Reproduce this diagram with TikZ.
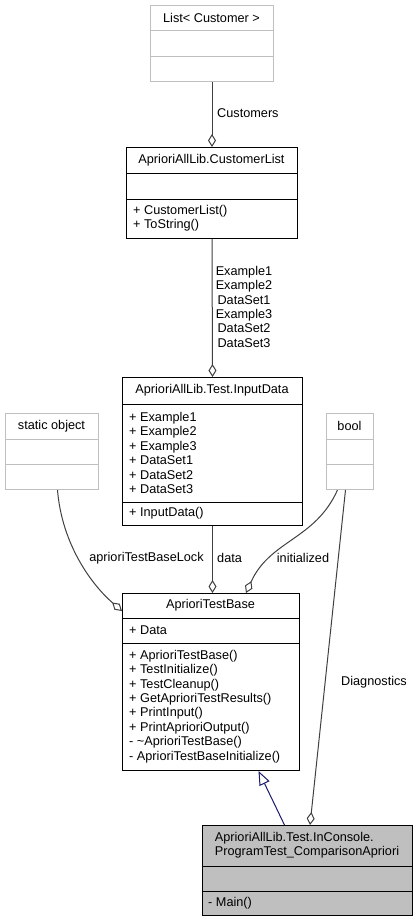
\documentclass[tikz,border=0pt]{standalone}
\usepackage{fontspec}
\setmainfont{Liberation Sans}
\usetikzlibrary{arrows.meta,calc}
\definecolor{edgegray}{HTML}{404040}
\definecolor{boxgray}{HTML}{BFBFBF}
\definecolor{inhblue}{HTML}{191970}
\tikzset{
  txt/.style={font=\fontsize{12.7}{14.4}\selectfont, inner sep=0pt},
  cls/.style={draw=black, line width=1pt, anchor=north west, inner sep=0pt, fill=white},
  extcls/.style={cls, draw=boxgray},
  sepline/.style={draw=black, line width=1pt},
  extsep/.style={draw=boxgray, line width=1pt},
  agg/.style={draw=edgegray, line width=1pt, -{Diamond[open, length=13pt, width=8pt, fill=white]}},
  inh/.style={draw=inhblue, line width=1pt, -{Triangle[open, length=14pt, width=11pt, fill=white]}},
  lbl/.style={txt, text=black},
}
\begin{document}
\begin{tikzpicture}[x=1pt,y=-1pt]
\useasboundingbox (0,0) rectangle (416,923);

% List< Customer >
\node[extcls, minimum width=123pt, minimum height=76pt] (lst) at (150,5) {};
\draw[extsep] (150,31) -- (273,31) (150,57) -- (273,57);
\node[txt] (lstT) at (211.5,18) {List< Customer >};

% AprioriAllLib.CustomerList
\node[cls, minimum width=171pt, minimum height=91pt] (cl) at (126,147) {};
\draw[sepline] (126,173) -- (297,173) (126,199) -- (297,199);
\node[txt] (clT) at (211.5,160) {AprioriAllLib.CustomerList};
\node[txt, anchor=west, align=left] (clM) at (133,218.5) {+ CustomerList()\\+ ToString()};

% AprioriAllLib.Test.InputData
\node[cls, minimum width=180pt, minimum height=148pt] (id) at (122,377) {};
\draw[sepline] (122,404) -- (302,404) (122,502) -- (302,502);
\node[txt] (idT) at (212,390.5) {AprioriAllLib.Test.InputData};
\node[txt, anchor=west, align=left] (idA) at (129,453)
  {+ Example1\\+ Example2\\+ Example3\\+ DataSet1\\+ DataSet2\\+ DataSet3};
\node[txt, anchor=west] (idM) at (129,513.5) {+ InputData()};

% static object
\node[extcls, minimum width=93pt, minimum height=76pt] (so) at (5,413) {};
\draw[extsep] (5,439) -- (98,439) (5,464) -- (98,464);
\node[txt] (soT) at (51.5,426) {static object};

% bool
\node[extcls, minimum width=47pt, minimum height=76pt] (bool) at (326,413) {};
\draw[extsep] (326,439) -- (373,439) (326,464) -- (373,464);
\node[txt] (boolT) at (349.5,426) {bool};

% AprioriTestBase
\node[cls, minimum width=177pt, minimum height=177pt] (atb) at (122,593) {};
\draw[sepline] (122,618) -- (299,618) (122,643) -- (299,643);
\node[txt] (atbT) at (210.5,605.5) {AprioriTestBase};
\node[txt, anchor=west] (atbA) at (129,630.5) {+ Data};
\node[txt, anchor=west, align=left] (atbM) at (129,706.5)
  {+ AprioriTestBase()\\+ TestInitialize()\\+ TestCleanup()\\+ GetAprioriTestResults()\\+ PrintInput()\\+ PrintAprioriOutput()\\- \textasciitilde AprioriTestBase()\\- AprioriTestBaseInitialize()};

% AprioriAllLib.Test.InConsole.ProgramTest_ComparisonApriori
\node[cls, fill=boxgray, minimum width=210pt, minimum height=90pt] (pt) at (202,825) {};
\draw[sepline] (202,866) -- (412,866) (202,891) -- (412,891);
\node[txt, align=left] (ptT) at (307,845.5) {AprioriAllLib.Test.InConsole.\\ProgramTest\_ComparisonApriori};
\node[txt, anchor=west] (ptM) at (208,903) {- Main()};

% usage relations
\draw[agg] (lst.south) -- (cl.north);
\draw[agg] (cl.south) -- (id.north);
\draw[agg] (id.south) -- (id.south |- atb.north);

\coordinate (soOut) at ($(so.south)+(5.5,0)$);
\coordinate (atbLock) at ($(atb.north west)+(0,18)$);
\draw[agg] (soOut) .. controls (62,545) and (92,585) .. (atbLock);

\coordinate (boolInit) at ($(bool.south)+(-12.5,0)$);
\coordinate (atbInit) at ($(atb.north)+(35,0)$);
\draw[agg] (boolInit) .. controls (315,540) and (270,540) .. (atbInit);

\coordinate (boolDiag) at ($(bool.south)+(-4.5,0)$);
\coordinate (ptDiag) at ($(pt.north)+(2.5,0)$);
\draw[agg] (boolDiag) -- (ptDiag);

% inheritance
\coordinate (ptBase) at ($(pt.north)+(-23,0)$);
\coordinate (atbBase) at ($(atb.south)+(47.5,0)$);
\draw[inh] (ptBase) -- (atbBase);

% edge labels
\node[lbl, anchor=west] (lCust) at (217,113) {Customers};
\node[lbl, align=center] (lData) at (244,306.7) {Example1\\Example2\\DataSet1\\Example3\\DataSet2\\DataSet3};
\node[lbl, anchor=west] (lD) at (217,558) {data};
\node[lbl] (lLock) at (146.5,558) {aprioriTestBaseLock};
\node[lbl] (lInit) at (303,558) {initialized};
\node[lbl] (lDiag) at (374,682) {Diagnostics};
\end{tikzpicture}
\end{document}
